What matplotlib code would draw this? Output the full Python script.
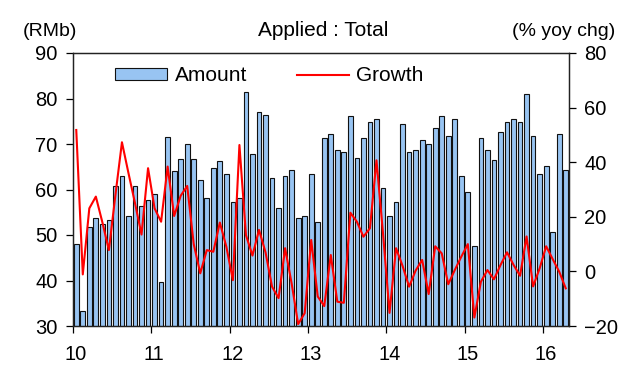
import matplotlib
matplotlib.use('Agg')
import matplotlib.pyplot as plt
import matplotlib.transforms as mtransforms
import numpy as np

plt.rcParams['font.family'] = ['Liberation Sans', 'DejaVu Sans']

year_labels = ['10', '11', '12', '13', '14', '15', '16']

amount = [
    48.0, 33.4, 51.8, 53.7, 52.4, 53.3, 60.8, 62.9, 54.1, 60.8, 56.4, 57.7,
    59.0, 39.6, 71.6, 64.1, 66.8, 69.9, 66.8, 62.0, 58.1, 64.7, 66.3, 63.3,
    57.2, 58.1, 81.4, 67.7, 77.0, 76.4, 62.5, 55.9, 62.9, 64.2, 53.7, 54.1,
    63.3, 52.8, 71.3, 72.1, 68.6, 68.2, 76.1, 66.9, 71.3, 74.8, 75.6, 60.3,
    54.1, 57.2, 74.3, 68.2, 68.6, 70.8, 69.9, 73.5, 76.1, 71.7, 75.6, 62.9,
    59.4, 47.5, 71.3, 68.6, 66.4, 72.6, 74.8, 75.6, 74.8, 80.9, 71.7, 63.3,
    65.1, 50.6, 72.1, 64.2,
]

growth = [
    51.8, -1.1, 23.1, 27.4, 18.0, 7.8, 28.0, 47.3, 36.0, 25.0, 13.5, 37.8,
    23.1, 18.2, 38.4, 20.3, 27.7, 31.3, 10.0, -0.7, 7.8, 7.2, 17.9, 9.0,
    -3.2, 46.3, 13.3, 5.8, 15.2, 7.0, -5.6, -9.8, 8.5, -4.4, -19.3, -15.3,
    11.5, -9.2, -12.7, 6.0, -11.1, -11.5, 21.5, 18.2, 12.7, 15.8, 40.7, 14.0,
    -15.2, 8.5, 2.0, -5.6, 0.3, 4.2, -8.3, 9.2, 6.6, -4.7, 0.5, 5.4,
    10.0, -16.9, -3.8, 0.5, -2.9, 2.3, 7.0, 2.4, -1.6, 12.8, -5.5, 1.1,
    9.2, 4.5, -0.1, -6.2,
]

W, H = 644, 379
fig = plt.figure(figsize=(W / 100, H / 100), dpi=100)
ax = fig.add_axes([73 / W, 1 - 326 / H, 496 / W, 273 / H])

x = np.arange(len(amount)) + 0.5
ax.bar(x, amount, width=0.72, color='#98C4F2', edgecolor='#111111',
       linewidth=0.8, label='Amount', zorder=2)
ax.set_xlim(0, 76)
ax.set_ylim(30, 90)
ax.set_yticks(range(30, 91, 10))
ax.set_xticks(np.arange(0, 73, 12))
ax.set_xticklabels(year_labels)

ax2 = ax.twinx()
ax2.plot(x, growth, color='#FF0000', lw=1.5, label='Growth', zorder=3)
ax2.set_ylim(-20, 80)
ax2.set_yticks(range(-20, 81, 20))

for a in (ax, ax2):
    for s in a.spines.values():
        s.set_linewidth(0.9)
        s.set_color('#222222')
ax.tick_params(axis='y', direction='out', length=5, width=0.9, labelsize=14.5, pad=6)
ax.tick_params(axis='x', direction='out', length=5, width=0.9, labelsize=14.5, pad=9)
ax2.tick_params(axis='y', direction='out', length=5, width=0.9, labelsize=14.5, pad=6)

offset = mtransforms.ScaledTranslation(3 / 100, 0, fig.dpi_scale_trans)
for lbl in ax.get_xticklabels():
    lbl.set_transform(lbl.get_transform() + offset)

h1, l1 = ax.get_legend_handles_labels()
h2, l2 = ax2.get_legend_handles_labels()
leg = ax2.legend(h1 + h2, l1 + l2, ncol=2, loc='center left',
                 bbox_to_anchor=(0.085, 0.916), frameon=False, fontsize=15,
                 handlelength=2.5, handleheight=0.5, handletextpad=0.35,
                 columnspacing=2.4, borderpad=0, borderaxespad=0)

fig.text(50 / W, 1 - 31 / H, '(RMb)', ha='center', va='center', fontsize=14)
fig.text(323 / W, 1 - 31 / H, 'Applied : Total', ha='center', va='center', fontsize=15)
fig.text(564 / W, 1 - 31 / H, '(% yoy chg)', ha='center', va='center', fontsize=14)

fig.savefig('out.png', dpi=100)
